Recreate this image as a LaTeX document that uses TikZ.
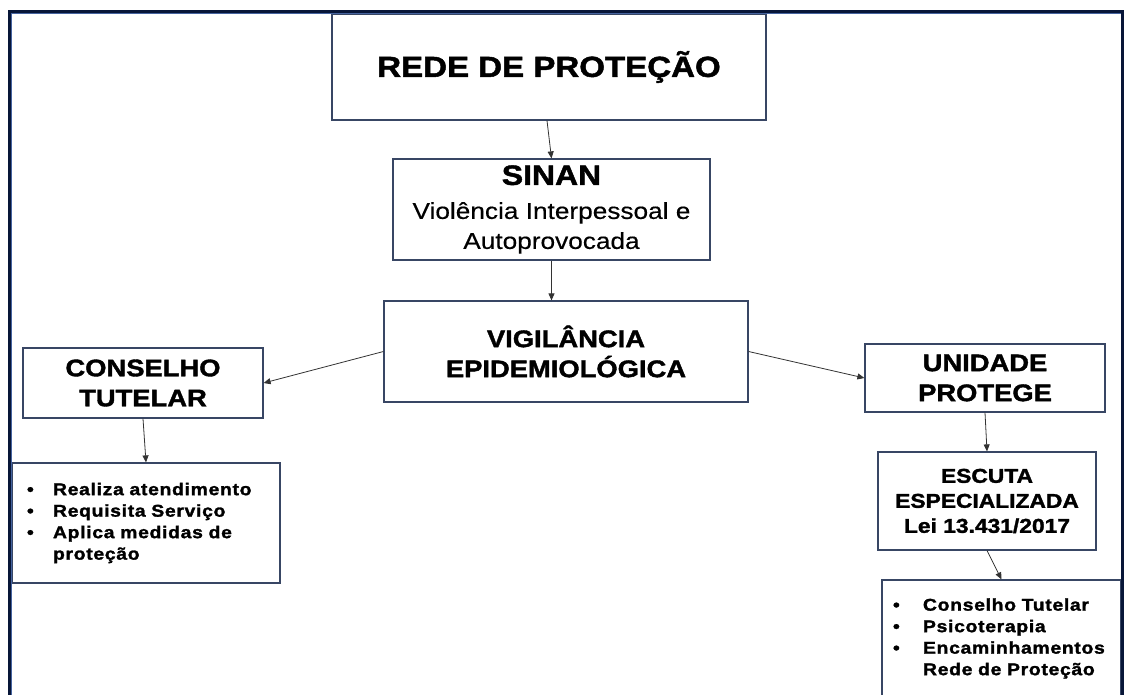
\documentclass[tikz,border=0pt]{standalone}
\usepackage{fontspec}
\setmainfont{Liberation Sans}[FakeStretch=1.14,UprightFeatures={FakeBold=0.4},BoldFeatures={FakeBold=1.6}]
\usepackage{tikz}
\usetikzlibrary{arrows.meta}

\definecolor{boxline}{RGB}{56,70,100}
\definecolor{navy}{RGB}{8,22,56}
\definecolor{navylight}{RGB}{70,100,160}

\newcommand{\bul}[1]{\makebox[#1][l]{\textbullet}}

\begin{document}
\begin{tikzpicture}	[
		x = 1pt, y = -1pt,
		b/.style = {
			draw = boxline,
			line width = 1.2pt,
			fill = white,
			align = center,
			inner sep = 0pt
		},
		big/.style = {
			b,
			font = \bfseries\fontsize{24}{30}\selectfont
		},
		lst/.style = {
			b,
			align = left,
			font = \bfseries\fontsize{17}{21.5}\selectfont\addfontfeature{LetterSpace=4}
		},
		arr/.style = {
			-{Triangle[length=7pt,width=6pt]},
			draw = black!80,
			line width = 0.8pt
		}
	]
	\clip (0,0) rectangle (1124,694);
	\fill [white] (0,0) rectangle (1124,694);

	\node [b, minimum width=434pt, minimum height=106pt,
		font=\bfseries\fontsize{29}{32}\selectfont] (rede) at (549,67) {REDE DE PROTEÇÃO};

	\node [b, minimum width=317pt, minimum height=101pt,
		font=\fontsize{23}{30}\selectfont] (sinan) at (551.5,209.5)
		{{\bfseries\fontsize{28}{30}\selectfont SINAN}\\[4pt]Violência Interpessoal e\\Autoprovocada};

	\node [big, minimum width=364pt, minimum height=101pt] (vigi) at (566,351.5) {VIGILÂNCIA\\EPIDEMIOLÓGICA};

	\node [big, minimum width=240pt, minimum height=70pt] (conselho) at (143,383) {CONSELHO\\TUTELAR};
	\node [big, minimum width=240pt, minimum height=68pt] (unidade) at (985,378) {UNIDADE\\PROTEGE};

	\node [b, minimum width=218pt, minimum height=98pt,
		font=\bfseries\fontsize{20}{25}\selectfont] (escuta) at (987,501) {ESCUTA\\ESPECIALIZADA\\Lei 13.431/2017};

	% listas
	\node [lst, inner xsep=15pt, text width=238pt, minimum height=120pt] (listL) at (146,523)
		{\bul{26pt}Realiza atendimento\\\bul{26pt}Requisita Serviço\\\bul{26pt}Aplica medidas de\\\hspace*{26pt}proteção};
	\node [lst, inner xsep=11pt, text width=217pt, minimum height=117pt] (listR) at (1001.5,638.5)
		{\bul{30pt}Conselho Tutelar\\\bul{30pt}Psicoterapia\\\bul{30pt}Encaminhamentos\\\hspace*{30pt}Rede de Proteção};

	\draw [arr] ([xshift=-2pt]rede.south) -- (sinan.north);
	\draw [arr] (sinan.south) -- (sinan.south |- vigi.north);
	\draw [arr] (vigi.west) -- (conselho.east);
	\draw [arr] (conselho.south) -- (listL.north);
	\draw [arr] (vigi.east) -- (unidade.west);
	\draw [arr] (unidade.south) -- (escuta.north);
	\draw [arr] (escuta.south) -- (listR.north);

	% moldura
	\draw [navylight, line width=1pt] (11,700) -- (11,13.5) -- (1121,13.5);
	\draw [navy, line width=3pt] (9,700) -- (9,11.5) -- (1122.5,11.5) -- (1122.5,700);
\end{tikzpicture}
\end{document}
